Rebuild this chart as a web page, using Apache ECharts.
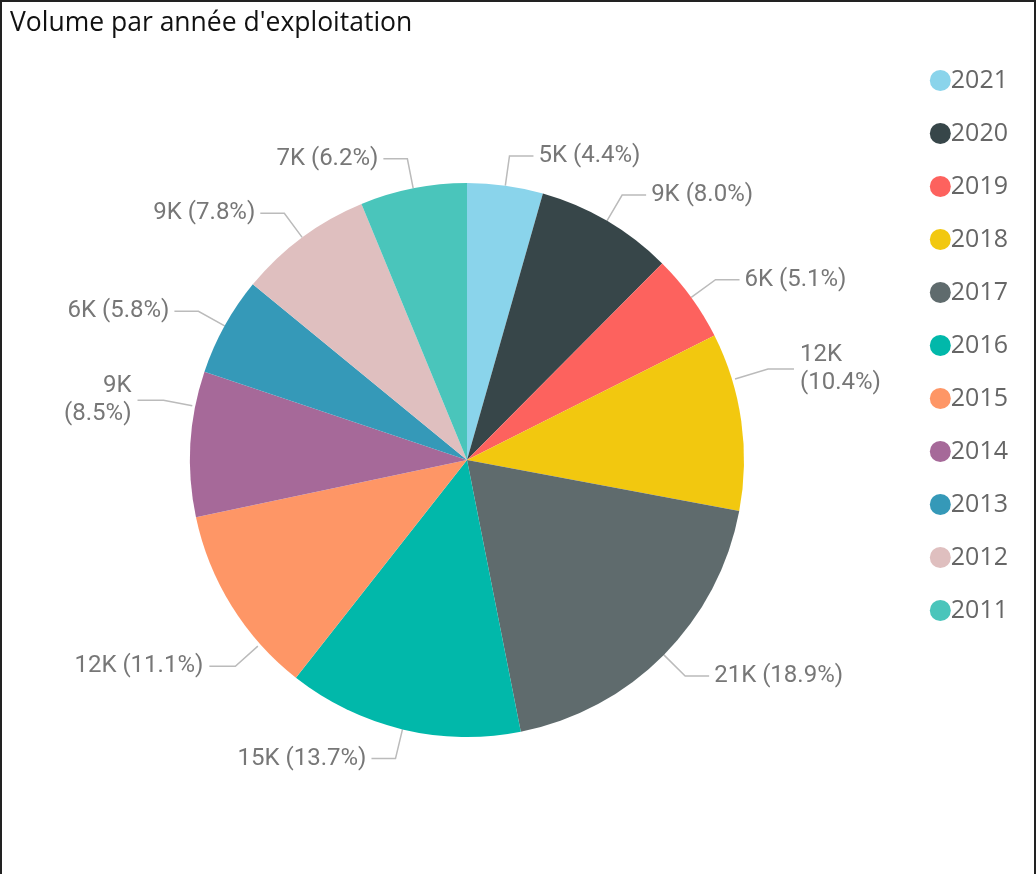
<!DOCTYPE html>
<html>
<head>
<meta charset="utf-8">
<script src="https://cdn.jsdelivr.net/npm/echarts@6/dist/echarts.min.js"></script>
<style>
  html, body { margin: 0; padding: 0; background: #fff; }
  #frame {
    position: absolute; left: 0; top: 0; width: 1032px; height: 880px;
    border: 2px solid #222; border-bottom: none; box-sizing: content-box;
  }
  #chart { width: 1036px; height: 874px; position: absolute; left: 0; top: 0; }
</style>
</head>
<body>
<div id="frame"></div>
<div id="chart"></div>
<script>
// données du graphique
const annees = ['2021', '2020', '2019', '2018', '2017', '2016', '2015', '2014', '2013', '2012', '2011'];
const volumes = [4900, 8900, 5700, 11500, 21000, 15200, 12300, 9400, 6400, 8700, 6900];
const couleurs = ['#8AD4EB', '#374649', '#FD625E', '#F2C80F', '#5F6B6D', '#01B8AA',
                  '#FE9666', '#A66999', '#3599B8', '#DFBFBF', '#4AC5BB'];
// étiquettes affichées sur deux lignes
const etiquettesCoupees = ['2018', '2014'];
// décalage [dx, dy] de quelques étiquettes (comme dans Power BI)
const decalages = { '2018': [0, -48], '2014': [0, -42], '2015': [26, 44] };

const total = volumes.reduce((a, b) => a + b, 0);
const centre = [467, 460];
const rayon = 277;

const chart = echarts.init(document.getElementById('chart'));

// replace l'étiquette et retrace son trait vers le bord le plus proche du camembert
function placerEtiquette(params) {
    const d = decalages[annees[params.dataIndex]];
    if (!d) return {};
    const r = params.labelRect;
    const aDroite = r.x > centre[0];
    const x = (aDroite ? r.x : r.x + r.width) + d[0];
    const y = r.y + r.height / 2 + d[1];
    const bout = [aDroite ? x - 6 : x + 6, y];
    const coude = [aDroite ? bout[0] - 26 : bout[0] + 26, y];
    const dx = coude[0] - centre[0], dy = coude[1] - centre[1];
    const n = Math.sqrt(dx * dx + dy * dy);
    const depart = [centre[0] + dx / n * (rayon + 3), centre[1] + dy / n * (rayon + 3)];
    return { x: x, y: y, labelLinePoints: [depart, coude, bout] };
}

const option = {
    animation: false,
    title: {
        text: "Volume par année d'exploitation",
        left: 5,
        top: 5,
        textStyle: {
            fontFamily: 'Open Sans',
            fontWeight: 'normal',
            fontSize: 26.5,
            color: '#111'
        }
    },
    color: couleurs,
    legend: {
        orient: 'vertical',
        right: 23,
        top: 63,
        icon: 'circle',
        itemWidth: 21,
        itemHeight: 21,
        itemGap: 28,
        textStyle: {
            fontFamily: 'Open Sans',
            fontSize: 25,
            color: '#666',
            padding: [0, 0, 0, -5]
        },
        data: annees
    },
    series: [{
        type: 'pie',
        center: centre,
        radius: rayon,
        startAngle: 90,
        clockwise: true,
        label: {
            show: true,
            fontFamily: 'Roboto',
            fontSize: 24,
            color: '#777',
            lineHeight: 28,
            formatter: function (p) {
                const k = Math.round(p.value / 1000) + 'K';
                const pct = '(' + (p.value / total * 100).toFixed(1) + '%)';
                return etiquettesCoupees.includes(p.name) ? k + '\n' + pct : k + ' ' + pct;
            }
        },
        labelLine: {
            show: true,
            length: 30,
            length2: 24,
            lineStyle: { color: '#bbb', width: 1.5 }
        },
        labelLayout: placerEtiquette,
        emphasis: { disabled: true },
        data: annees.map((a, i) => ({ name: a, value: volumes[i] }))
    }]
};

chart.setOption(option);
</script>
</body>
</html>
